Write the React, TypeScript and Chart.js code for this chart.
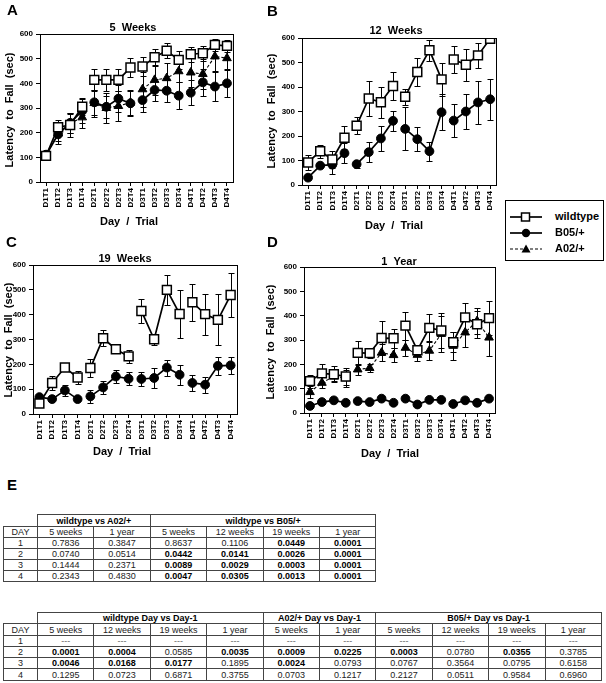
import React, { useEffect, useRef } from "react";
import { Chart, registerables } from "chart.js";
Chart.register(...registerables);

const FONT = '"Liberation Sans", Arial, Helvetica, sans-serif';

const trials = ["D1T1","D1T2","D1T3","D1T4","D2T1","D2T2","D2T3","D2T4","D3T1","D3T2","D3T3","D3T4","D4T1","D4T2","D4T3","D4T4"];
const yMin = 0;
const yMax = 600;
const yStep = 100;

// Panel A: 5 weeks
const wt5w = [106, 222, 231, 305, 414, 414, 414, 464, 468, 506, 532, 495, 518, 522, 556, 552];
const wt5wErr = [15, 30, 50, 35, 45, 45, 45, 40, 40, 35, 30, 35, 30, 30, 25, 25];
const b05_5w = [108, 193, 240, 288, 323, 305, 338, 319, 332, 373, 370, 350, 362, 404, 387, 400];
const b05_5wErr = [20, 40, 40, 50, 50, 45, 55, 50, 50, 45, 45, 55, 50, 55, 60, 55];
const a02_5w = [110, 197, 237, 262, 320, 300, 308, 322, 376, 414, 421, 449, 444, 438, 509, 502];
const a02_5wErr = [15, 30, 40, 45, 55, 60, 60, 50, 70, 60, 60, 45, 60, 60, 60, 45];

// Panel B: 12 weeks
const wt12w = [92, 138, 104, 193, 242, 353, 338, 404, 360, 461, 550, 431, 512, 491, 529, 597];
const wt12wErr = [30, 27, 35, 47, 35, 70, 64, 56, 32, 58, 43, 68, 54, 65, 52, 0];
const b05_12w = [30, 79, 83, 130, 85, 134, 190, 262, 229, 187, 138, 297, 263, 300, 337, 350];
const b05_12wErr = [10, 10, 40, 40, 15, 42, 51, 41, 88, 48, 39, 74, 67, 70, 87, 84];

// Panel C: 19 weeks
const wt19w = [42, 125, 187, 147, 185, 305, 261, 232, 415, 301, 500, 403, 450, 402, 379, 479];
const wt19wErr = [10, 29, 8, 25, 35, 33, 8, 27, 50, 22, 60, 95, 75, 82, 103, 90];
const b05_19w = [68, 60, 95, 60, 71, 107, 151, 142, 141, 145, 187, 158, 125, 118, 194, 196];
const b05_19wErr = [8, 5, 23, 5, 25, 25, 28, 27, 28, 40, 32, 40, 33, 33, 37, 35];

// Panel D: 1 year
const wt1y = [131, 163, 159, 150, 247, 246, 308, 307, 359, 258, 350, 339, 291, 393, 365, 390];
const wt1yErr = [27, 37, 33, 35, 49, 20, 69, 40, 57, 23, 57, 72, 42, 58, 55, 69];
const a02_1y = [86, 124, 150, 143, 179, 185, 248, 238, 268, 239, 256, 325, 276, 331, 378, 310];
const a02_1yErr = [26, 22, 20, 35, 23, 15, 36, 30, 33, 24, 40, 75, 58, 61, 55, 75];
const b05_1y = [29, 45, 52, 42, 49, 45, 59, 42, 59, 35, 54, 54, 37, 52, 42, 59];
const b05_1yErr = [5, 5, 5, 5, 5, 5, 5, 5, 5, 5, 5, 5, 5, 5, 5, 5];

const panelTitles = ["5  Weeks", "12  Weeks", "19  Weeks", "1  Year"];
const xAxisTitle = "Day  /  Trial";
const yAxisTitle = "Latency  to  Fall  (sec)";
const legendLabels = ["wildtype", "B05/+", "A02/+"];

// Table E1
const t1Groups = ["wildtype vs A02/+", "wildtype vs B05/+"];
const t1Cols = ["5 weeks", "1 year", "5 weeks", "12 weeks", "19 weeks", "1 year"];
const t1Days = ["1", "2", "3", "4"];
const t1Rows = [
  ["0.7836", "0.3847", "0.8637", "0.1106", "0.0449", "0.0001"],
  ["0.0740", "0.0514", "0.0442", "0.0141", "0.0026", "0.0001"],
  ["0.1444", "0.2371", "0.0089", "0.0029", "0.0003", "0.0001"],
  ["0.2343", "0.4830", "0.0047", "0.0305", "0.0013", "0.0001"],
];
// Table E2
const t2Groups = ["wildtype Day vs Day-1", "A02/+ Day vs Day-1", "B05/+ Day vs Day-1"];
const t2Cols = ["5 weeks", "12 weeks", "19 weeks", "1 year", "5 weeks", "1 year", "5 weeks", "12 weeks", "19 weeks", "1 year"];
const t2Rows = [
  ["---", "---", "---", "---", "---", "---", "---", "---", "---", "---"],
  ["0.0001", "0.0004", "0.0585", "0.0035", "0.0009", "0.0225", "0.0003", "0.0780", "0.0355", "0.3785"],
  ["0.0046", "0.0168", "0.0177", "0.1895", "0.0024", "0.0793", "0.0767", "0.3564", "0.0795", "0.6158"],
  ["0.1295", "0.0723", "0.6871", "0.3755", "0.0703", "0.1217", "0.2127", "0.0511", "0.9584", "0.6960"],
];

type Kind = "wt" | "b05" | "a02";
type Series = { kind: Kind; data: number[]; err: number[] };
type PanelCfg = {
  x: number; y: number; w: number; h: number;
  L: number; T: number; R: number; B: number;
  title: string; titleX: number; titleY: number;
  xtX: number; xtY: number; ytX: number; ytY: number;
  series: Series[];
};

function styleFor(kind: Kind) {
  const gap = (c: any) => (c.p0DataIndex % 4 === 3 ? "rgba(0,0,0,0)" : "#000");
  if (kind === "wt")
    return { pointStyle: "rect", pointRadius: 6.3, pointBackgroundColor: "#fff", pointBorderColor: "#000", pointBorderWidth: 1.5, borderColor: "#000", borderWidth: 1.7, segment: { borderColor: gap } };
  if (kind === "b05")
    return { pointStyle: "circle", pointRadius: 4.4, pointBackgroundColor: "#000", pointBorderColor: "#000", pointBorderWidth: 1, borderColor: "#000", borderWidth: 1.7, segment: { borderColor: gap } };
  return { pointStyle: "triangle", pointRadius: 5, pointBackgroundColor: "#000", pointBorderColor: "#000", pointBorderWidth: 1, borderColor: "#000", borderWidth: 1.1, borderDash: [3, 2], segment: { borderColor: gap } };
}

function Panel({ cfg }: { cfg: PanelCfg }) {
  const ref = useRef<HTMLCanvasElement | null>(null);
  useEffect(() => {
    const cv = ref.current!;
    const plugin = {
      id: "panelDecor",
      beforeDatasetsDraw(chart: any) {
        const { ctx } = chart;
        const xs = chart.scales.x, ys = chart.scales.y;
        ctx.save();
        ctx.strokeStyle = "#000";
        ctx.lineWidth = 1;
        chart.data.datasets.forEach((ds: any) => {
          const errs: number[] = ds.errors || [];
          ds.data.forEach((v: number, i: number) => {
            const e = errs[i];
            if (v == null || !e) return;
            const px = Math.round(xs.getPixelForValue(i)) + 0.5;
            const t = Math.round(ys.getPixelForValue(Math.min(yMax, v + e))) + 0.5;
            const b = Math.round(ys.getPixelForValue(Math.max(0, v - e))) + 0.5;
            ctx.beginPath();
            ctx.moveTo(px, t); ctx.lineTo(px, b);
            ctx.moveTo(px - 3, t); ctx.lineTo(px + 3, t);
            ctx.moveTo(px - 3, b); ctx.lineTo(px + 3, b);
            ctx.stroke();
          });
        });
        ctx.restore();
      },
      afterDraw(chart: any) {
        const { ctx, chartArea: a } = chart;
        ctx.save();
        ctx.strokeStyle = "#000";
        ctx.lineWidth = 1;
        ctx.strokeRect(Math.round(a.left) + 0.5, Math.round(a.top) + 0.5, Math.round(a.right - a.left), Math.round(a.bottom - a.top));
        ctx.fillStyle = "#000";
        ctx.textAlign = "center";
        ctx.textBaseline = "middle";
        ctx.font = `bold 11px ${FONT}`;
        ctx.fillText(cfg.title, cfg.titleX - cfg.x, cfg.titleY - cfg.y);
        ctx.fillText(xAxisTitle, cfg.xtX - cfg.x, cfg.xtY - cfg.y);
        ctx.translate(cfg.ytX - cfg.x, cfg.ytY - cfg.y);
        ctx.rotate(-Math.PI / 2);
        ctx.fillText(yAxisTitle, 0, 0);
        ctx.restore();
      },
    };
    const datasets = cfg.series.map((s) => ({
      label: s.kind,
      data: s.data,
      errors: s.err,
      ...styleFor(s.kind),
    }));
    const chart = new Chart(cv, {
      type: "line",
      data: { labels: trials, datasets: datasets as any },
      options: {
        animation: false,
        responsive: false,
        devicePixelRatio: 1,
        events: [],
        layout: { padding: { left: 0, top: cfg.T - cfg.y, right: cfg.x + cfg.w - cfg.R, bottom: 0 } },
        plugins: { legend: { display: false }, tooltip: { enabled: false }, title: { display: false } },
        scales: {
          x: {
            type: "category",
            offset: true,
            grid: { drawOnChartArea: false, drawTicks: true, tickLength: 4, color: "#000", offset: false },
            border: { display: true, color: "#000", width: 1 },
            ticks: { autoSkip: false, minRotation: 90, maxRotation: 90, padding: 2, color: "#000", font: { family: FONT, size: 8, weight: "bold" } },
            afterFit: (s: any) => { s.height = cfg.y + cfg.h - cfg.B; },
          },
          y: {
            min: yMin, max: yMax,
            grid: { drawOnChartArea: false, drawTicks: true, tickLength: 4, color: "#000" },
            border: { display: true, color: "#000", width: 1 },
            ticks: { stepSize: yStep, padding: 3, color: "#000", font: { family: FONT, size: 8, weight: "bold" } },
            afterFit: (s: any) => { s.width = cfg.L - cfg.x; },
          },
        },
      } as any,
      plugins: [plugin],
    });
    return () => chart.destroy();
  }, []);
  return (
    <canvas ref={ref} width={cfg.w} height={cfg.h}
      style={{ position: "absolute", left: cfg.x, top: cfg.y, width: cfg.w, height: cfg.h }} />
  );
}

const panels: PanelCfg[] = [
  { x: 0, y: 0, w: 262, h: 235, L: 40, T: 34, R: 233, B: 182, title: panelTitles[0], titleX: 133, titleY: 28, xtX: 129, xtY: 222, ytX: 10, ytY: 110,
    series: [{ kind: "wt", data: wt5w, err: wt5wErr }, { kind: "b05", data: b05_5w, err: b05_5wErr }, { kind: "a02", data: a02_5w, err: a02_5wErr }] },
  { x: 262, y: 0, w: 242, h: 235, L: 302, T: 38, R: 499, B: 185, title: panelTitles[1], titleX: 396, titleY: 31, xtX: 394, xtY: 226, ytX: 272, ytY: 111,
    series: [{ kind: "wt", data: wt12w, err: wt12wErr }, { kind: "b05", data: b05_12w, err: b05_12wErr }] },
  { x: 0, y: 232, w: 262, h: 230, L: 33, T: 265, R: 237, B: 414, title: panelTitles[2], titleX: 125, titleY: 259, xtX: 122, xtY: 452, ytX: 9, ytY: 340,
    series: [{ kind: "wt", data: wt19w, err: wt19wErr }, { kind: "b05", data: b05_19w, err: b05_19wErr }] },
  { x: 262, y: 232, w: 242, h: 230, L: 304, T: 267, R: 495, B: 413, title: panelTitles[3], titleX: 399, titleY: 262, xtX: 390, xtY: 454, ytX: 271, ytY: 342,
    series: [{ kind: "wt", data: wt1y, err: wt1yErr }, { kind: "a02", data: a02_1y, err: a02_1yErr }, { kind: "b05", data: b05_1y, err: b05_1yErr }] },
];

function LegendMark({ kind }: { kind: Kind }) {
  return (
    <svg width={32} height={12} style={{ position: "absolute", left: 4, top: -6 }}>
      {kind === "a02"
        ? <line x1={0} y1={6} x2={32} y2={6} stroke="#000" strokeWidth={1.1} strokeDasharray="3 2" />
        : <line x1={0} y1={6} x2={32} y2={6} stroke="#000" strokeWidth={1.7} />}
      {kind === "wt" && <rect x={11.5} y={2} width={8} height={8} fill="#fff" stroke="#000" strokeWidth={1.5} />}
      {kind === "b05" && <circle cx={16} cy={6} r={4.2} fill="#000" />}
      {kind === "a02" && <polygon points="16,1.5 20.5,9.5 11.5,9.5" fill="#000" />}
    </svg>
  );
}

const cellBase: React.CSSProperties = {
  border: "1px solid #444", padding: 0, textAlign: "center", fontSize: 9, lineHeight: "10px",
  fontFamily: FONT, color: "#222", overflow: "hidden", whiteSpace: "nowrap",
};
const isBold = (v: string) => { const n = parseFloat(v); return !isNaN(n) && n < 0.05; };

function PTable({ left, top, groups, spans, cols, rows, rowH }: { left: number; top: number; groups: string[]; spans: number[]; cols: string[]; rows: string[][]; rowH: number[] }) {
  const colW = [34, ...cols.map(() => 56.4)];
  const total = colW.reduce((a, b) => a + b, 0);
  return (
    <table style={{ position: "absolute", left, top, width: total, borderCollapse: "collapse", tableLayout: "fixed", border: "1.5px solid #333" }}>
      <colgroup>{colW.map((w, i) => <col key={i} style={{ width: w }} />)}</colgroup>
      <tbody>
        <tr style={{ height: rowH[0] }}>
          <td style={{ ...cellBase, borderTop: "hidden", borderLeft: "hidden" }}></td>
          {groups.map((g, i) => (
            <td key={i} colSpan={spans[i]} style={{ ...cellBase, fontWeight: "bold", color: "#000" }}>{g}</td>
          ))}
        </tr>
        <tr style={{ height: rowH[1] }}>
          <td style={cellBase}>DAY</td>
          {cols.map((c, i) => <td key={i} style={cellBase}>{c}</td>)}
        </tr>
        {rows.map((r, ri) => (
          <tr key={ri} style={{ height: rowH[ri + 2] }}>
            <td style={cellBase}>{t1Days[ri]}</td>
            {r.map((v, ci) => (
              <td key={ci} style={{ ...cellBase, fontWeight: isBold(v) ? "bold" : "normal", color: isBold(v) ? "#000" : v === "---" ? "#666" : "#222" }}>{v}</td>
            ))}
          </tr>
        ))}
      </tbody>
    </table>
  );
}

const letterStyle: React.CSSProperties = { position: "absolute", fontFamily: FONT, fontWeight: "bold", fontSize: 15, lineHeight: "15px", color: "#000" };

export default function App() {
  const legendKinds: Kind[] = ["wt", "b05", "a02"];
  return (
    <div style={{ position: "absolute", left: 0, top: 0, width: 606, height: 683, background: "#fff", overflow: "hidden" }}>
      {panels.map((p, i) => <Panel key={i} cfg={p} />)}
      <div style={{ ...letterStyle, left: 7, top: 2 }}>A</div>
      <div style={{ ...letterStyle, left: 267, top: 3 }}>B</div>
      <div style={{ ...letterStyle, left: 6, top: 234 }}>C</div>
      <div style={{ ...letterStyle, left: 267, top: 234 }}>D</div>
      <div style={{ ...letterStyle, left: 7, top: 477 }}>E</div>
      <div style={{ position: "absolute", left: 505, top: 200, width: 97, height: 59, border: "1px solid #000" }}>
        {legendKinds.map((k, i) => (
          <div key={k} style={{ position: "absolute", left: 0, top: 16 + i * 16, width: 95 }}>
            <LegendMark kind={k} />
            <span style={{ position: "absolute", left: 49, top: -7, fontFamily: FONT, fontWeight: "bold", fontSize: 11, lineHeight: "13px", whiteSpace: "nowrap" }}>{legendLabels[i]}</span>
          </div>
        ))}
      </div>
      <PTable left={3} top={514} groups={t1Groups} spans={[2, 4]} cols={t1Cols} rows={t1Rows} rowH={[12, 11, 11, 11, 11, 11]} />
      <PTable left={3} top={612} groups={t2Groups} spans={[4, 2, 4]} cols={t2Cols} rows={t2Rows} rowH={[11, 12, 11, 11, 11, 12]} />
    </div>
  );
}
